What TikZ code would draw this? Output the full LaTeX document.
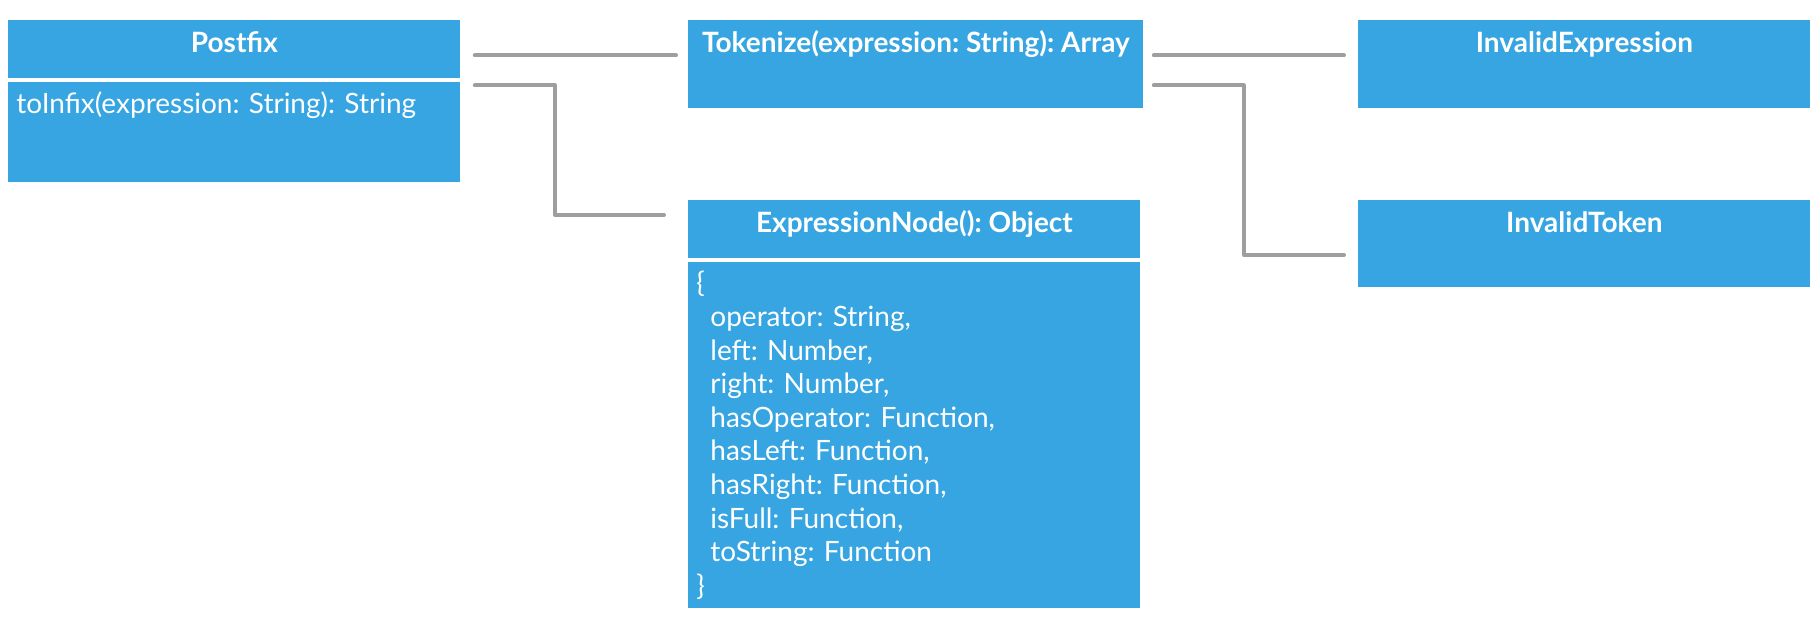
\documentclass[tikz,border=0pt]{standalone}
\usepackage{fontspec}
\setmainfont{Lato}
\definecolor{umlblue}{RGB}{54,165,226}
\definecolor{linkgray}{RGB}{158,158,158}
\newcommand{\diagfont}{\fontsize{14pt}{16.8pt}\selectfont\frenchspacing}

\begin{document}
\begin{tikzpicture}[x=0.5pt, y=-0.5pt, font=\diagfont,
  box/.style={fill=umlblue, text=white, anchor=north west, inner ysep=0pt, inner xsep=4pt},
  hdr/.style={box, font=\diagfont\bfseries, minimum width=226pt, text height=16pt},
  ops/.style={box, text width=218pt, align=left},
  link/.style={draw=linkgray, line width=2pt, line cap=round, line join=round}]
\useasboundingbox (0,0) rectangle (1820,640);
% Postfix
\node[hdr, text depth=13pt] (postfix) at (8,20) {Postfix};
\node[ops, text height=15.5pt, text depth=34.5pt] (postfixops) at (8,82) {toInfix(expression: String): String};
% Tokenize and ExpressionNode
\node[hdr, minimum width=227.5pt, text depth=28pt] (tok) at (688,20) {Tokenize(expression: String): Array};
\node[hdr, text depth=13pt] (expr) at (688,200) {ExpressionNode(): Object};
\node[ops, minimum height=173pt] (exprops) at (688,262) {\{\\
\hspace*{7pt}operator: String,\\
\hspace*{7pt}left: Number,\\
\hspace*{7pt}right: Number,\\
\hspace*{7pt}hasOperator: Function,\\
\hspace*{7pt}hasLeft: Function,\\
\hspace*{7pt}hasRight: Function,\\
\hspace*{7pt}isFull: Function,\\
\hspace*{7pt}toString: Function\\
\}};
% errors
\node[hdr, text depth=28pt] (invexpr) at (1358,20) {InvalidExpression};
\node[hdr, text depth=27.5pt] (invtok) at (1358,200) {InvalidToken};
% links
\draw[link] ([shift={(7pt,-17.75pt)}]postfix.north east) -- ([shift={(-6pt,-17.75pt)}]tok.north west);
\draw[link] ([shift={(7pt,-32.75pt)}]postfix.north east) -- ++(40pt,0) |- ([shift={(-12pt,-7.5pt)}]expr.north west);
\draw[link] ([shift={(5pt,-17.75pt)}]tok.north east) -- ([shift={(-7pt,-17.75pt)}]invexpr.north west);
\draw[link] ([shift={(5pt,-32.75pt)}]tok.north east) -- ++(45pt,0) |- ([shift={(-7pt,-27.5pt)}]invtok.north west);
\end{tikzpicture}
\end{document}
